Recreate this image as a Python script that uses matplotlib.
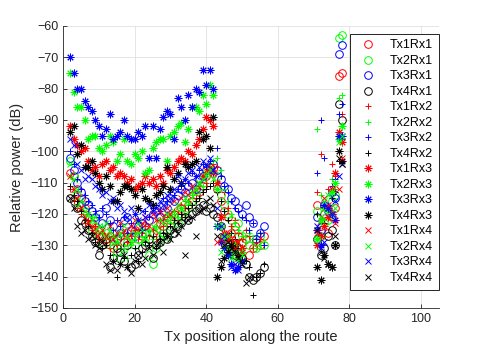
import matplotlib
matplotlib.use("Agg")
import matplotlib.pyplot as plt

nan = float("nan")

# x positions of the three measured stretches of the route
X_A = [2, 3, 4, 5, 6, 7, 8, 9, 10, 11, 12, 13, 14, 15, 16, 17, 18, 19, 20, 21, 22,
       23, 24, 25, 26, 27, 28, 29, 30, 31, 32, 33, 34, 35, 36, 37, 38, 39, 40, 41, 42]
X_B = [43, 44, 45, 46, 47, 48, 49, 50, 51, 52, 53, 54, 55, 56]
X_C = [71, 72, 73, 74, 75, 76, 77, 78]

# relative power (dB), one list per stretch
TX1RX1_A = [-107, -108, -112, -115, -118, -121, -123, -126, -125, -127, -129, -127, -131, -128,
            -127, -129, -126, -128, -125, -126, -127, -124, -128, -126, -125, -123, -124, -121,
            -122, -120, -121, -118, -119, -117, -116, -114, -113, -111, -108, -106, -107]
TX1RX1_B = [-112, -116, -119, -121, -126, -124, -127, -129, -128, -133, -131, -129, -130, -127]
TX1RX1_C = [-117, -124, -120, -126, -121, -118, -76, -75]

TX2RX1_A = [-103, -108, -114, -117, -119, -122, -125, -124, -127, -129, -126, -130, -128, -132,
            -134, -131, -129, -127, -130, -128, -126, -129, -133, -136, -131, -128, -126, -127,
            -124, -122, -123, -120, -119, -118, -116, -115, -112, -110, -107, -105, -104]
TX2RX1_B = [-108, -114, -117, -120, -122, -125, -123, -127, -126, -130, -128, -131, -127, -130]
TX2RX1_C = [-119, -127, -123, -122, -116, -114, -64, -63]

TX3RX1_A = [-102, -106, -110, -113, -116, -117, -119, -121, -120, -123, -118, -122, -124, -128,
            -126, -122, -121, -125, -127, -124, -123, -126, -122, -120, -119, -121, -117, -118,
            -115, -116, -114, -112, -113, -111, -110, -112, -109, -108, -106, -105, -104]
TX3RX1_B = [-106, -109, -111, -112, -115, -116, -118, -120, -117, -121, -123, -128, -126, -124]
TX3RX1_C = [-121, -125, -117, -119, -113, -115, -69, -66]

TX4RX1_A = [-115, -116, -118, -122, -123, -125, -127, -129, -133, -130, -128, -137, -134, -131,
            -132, -135, -130, -137, -136, -133, -131, -130, -128, -134, -130, -129, -127, -128,
            -125, -126, -124, -123, -121, -122, -120, -119, -118, -117, -119, -118, -120]
TX4RX1_B = [-121, -124, -127, -129, -131, -133, -132, -134, -136, -140, -141, -140, -139, -137]
TX4RX1_C = [-128, -133, -131, -127, -125, -130, -85, -90]

TX1RX2_A = [-112, -116, -118, -120, -123, -122, -125, -124, -128, -126, -129, -131, -127, -130,
            -128, -126, -129, -127, -125, -128, -126, -124, -127, -125, -128, -122, -124, -121,
            -123, -119, -120, -117, -118, -116, -113, -115, -111, -108, -110, -106, -104]
TX1RX2_B = [-105, -108, -113, -118, -124, -122, -126, -128, -125, -127, -131, -129, -128, -130]
TX1RX2_C = [-113, -101, -118, -112, -104, -108, -96, -88]

TX2RX2_A = [-108, -113, -117, -119, -122, -124, -121, -126, -128, -124, -127, -130, -133, -129,
            -127, -131, -134, -130, -128, -126, -129, -127, -125, -128, -124, -126, -127, -122,
            -123, -120, -121, -118, -116, -117, -114, -112, -110, -111, -107, -105, -103]
TX2RX2_B = [-102, -106, -112, -116, -120, -123, -125, -127, -129, -126, -128, -131, -130, -129]
TX2RX2_C = [-93, -114, -117, -121, -109, -112, -83, -82]

TX3RX2_A = [-100, -104, -109, -112, -114, -116, -117, -119, -121, -118, -120, -123, -125, -122,
            -124, -121, -126, -123, -120, -122, -125, -119, -121, -118, -117, -119, -115, -116,
            -113, -114, -112, -111, -109, -110, -107, -108, -106, -104, -105, -103, -107]
TX3RX2_B = [-99, -108, -111, -113, -116, -118, -119, -121, -122, -125, -123, -128, -126, -130]
TX3RX2_C = [-107, -90, -102, -117, -111, -109, -88, -85]

TX4RX2_A = [-111, -114, -116, -119, -122, -124, -126, -129, -128, -131, -130, -133, -135, -140,
            -136, -134, -137, -133, -131, -135, -132, -129, -130, -127, -131, -128, -126, -127,
            -124, -122, -123, -120, -121, -118, -117, -116, -115, -113, -112, -111, -110]
TX4RX2_B = [-113, -116, -119, -122, -126, -128, -130, -133, -135, -137, -146, -140, -139, -136]
TX4RX2_C = [-120, -127, -123, -121, -115, -113, -103, -96]

TX1RX3_A = [-92, -96, -98, -100, -99, -103, -106, -105, -108, -104, -103, -106, -105, -108,
            -107, -108, -110, -109, -112, -111, -110, -108, -110, -109, -111, -108, -110, -106,
            -107, -105, -103, -102, -103, -100, -101, -98, -96, -93, -89, -90, -92]
TX1RX3_B = [-110, -121, -126, -128, -130, -129, -133, -131, nan, nan, nan, nan, nan, nan]
TX1RX3_C = [-130, -127, -124, -121, -112, -107, -94, -97]

TX2RX3_A = [-75, -81, -86, -86, -90, -96, -95, -95, -99, -100, -98, -95, -97, -103,
            -101, -96, -103, -104, -101, -102, -100, -107, -106, -99, -97, -96, -96, -103,
            -95, -94, -92, -91, -97, -93, -86, -86, -87, -82, -85, -79, -82]
TX2RX3_B = [-112, -124, -127, -131, -133, -130, -134, -132, nan, nan, nan, nan, nan, nan]
TX2RX3_C = [-128, -122, -118, -119, -113, -110, -96, -92]

TX3RX3_A = [-70, -75, -80, -80, -84, -86, -87, -90, -92, -95, -93, -88, -96, -95,
            -94, -90, -95, -96, -96, -94, -95, -92, -102, -92, -102, -93, -89, -87,
            -88, -96, -83, -86, -90, -82, -86, -80, -81, -74, -79, -74, -80]
TX3RX3_B = [-124, -129, -131, -133, -136, -138, -137, -135, nan, nan, nan, nan, nan, nan]
TX3RX3_C = [-125, -130, -117, -118, -120, -122, -95, -95]

TX4RX3_A = [-94, -92, -101, -98, -105, -105, -103, -107, -110, -112, -108, -111, -116, -116,
            -113, -111, -111, -112, -114, -118, -112, -115, -116, -117, -114, -113, -111, -105,
            -112, -109, -107, -110, -104, -105, -104, -103, -94, -96, -95, -99, -89]
TX4RX3_B = [-140, -137, -134, -132, -130, -131, -133, -135, nan, nan, nan, nan, nan, nan]
TX4RX3_C = [-137, -141, -133, -136, -137, -130, -100, -103]

TX1RX4_A = [-108, -112, -115, -118, -121, -123, -124, -126, -128, -125, -127, -124, -128, -126,
            -123, -125, -127, -124, -122, -125, -123, -121, -124, -120, -122, -119, -121, -118,
            -120, -116, -117, -115, -113, -114, -111, -112, -110, -108, -106, -105, -107]
TX1RX4_B = [-129, -128, -130, -126, -128, -131, -129, -132, nan, nan, nan, nan, nan, nan]
TX1RX4_C = [-126, -121, -115, -117, -119, -123, -112, -102]

TX2RX4_A = [-104, -109, -112, -116, -119, -120, -122, -121, -124, -126, -123, -125, -127, -129,
            -126, -124, -127, -129, -126, -123, -125, -128, -126, -124, -125, -122, -123, -120,
            -121, -119, -117, -118, -115, -116, -113, -112, -110, -109, -108, -106, -109]
TX2RX4_B = [-124, -132, -130, -127, -134, -132, -135, -133, nan, nan, nan, nan, nan, nan]
TX2RX4_C = [-128, -121, -116, -114, -120, -118, -97, -95]

TX3RX4_A = [-96, -98, -104, -106, -109, -108, -109, -111, -112, -114, -113, -116, -115, -118,
            -117, -119, -121, -118, -120, -122, -119, -121, -117, -119, -118, -116, -117, -114,
            -115, -112, -108, -110, -109, -107, -106, -108, -105, -103, -104, -102, -106]
TX3RX4_B = [-118, -124, -127, -133, -137, -136, -138, -135, nan, nan, nan, nan, nan, nan]
TX3RX4_C = [-124, -131, -129, -118, -120, -116, -108, -104]

TX4RX4_A = [-115, -118, -124, -126, -125, -128, -127, -130, -131, -129, -136, -138, -135, -138,
            -136, -133, -137, -139, -135, -133, -136, -134, -131, -133, -130, -129, -132, -127,
            -128, -125, -126, -124, -133, -122, -121, -127, -119, -118, -116, -115, -117]
TX4RX4_B = [-127, -135, -130, -129, -131, -132, -134, -136, -142, -140, nan, nan, nan, nan]
TX4RX4_C = [-125, -132, -134, -136, -137, -127, -102, -104]

SERIES = [
    ("Tx1Rx1", "r", "o", TX1RX1_A, TX1RX1_B, TX1RX1_C),
    ("Tx2Rx1", "g", "o", TX2RX1_A, TX2RX1_B, TX2RX1_C),
    ("Tx3Rx1", "b", "o", TX3RX1_A, TX3RX1_B, TX3RX1_C),
    ("Tx4Rx1", "k", "o", TX4RX1_A, TX4RX1_B, TX4RX1_C),
    ("Tx1Rx2", "r", "+", TX1RX2_A, TX1RX2_B, TX1RX2_C),
    ("Tx2Rx2", "g", "+", TX2RX2_A, TX2RX2_B, TX2RX2_C),
    ("Tx3Rx2", "b", "+", TX3RX2_A, TX3RX2_B, TX3RX2_C),
    ("Tx4Rx2", "k", "+", TX4RX2_A, TX4RX2_B, TX4RX2_C),
    ("Tx1Rx3", "r", "*", TX1RX3_A, TX1RX3_B, TX1RX3_C),
    ("Tx2Rx3", "g", "*", TX2RX3_A, TX2RX3_B, TX2RX3_C),
    ("Tx3Rx3", "b", "*", TX3RX3_A, TX3RX3_B, TX3RX3_C),
    ("Tx4Rx3", "k", "*", TX4RX3_A, TX4RX3_B, TX4RX3_C),
    ("Tx1Rx4", "r", "x", TX1RX4_A, TX1RX4_B, TX1RX4_C),
    ("Tx2Rx4", "g", "x", TX2RX4_A, TX2RX4_B, TX2RX4_C),
    ("Tx3Rx4", "b", "x", TX3RX4_A, TX3RX4_B, TX3RX4_C),
    ("Tx4Rx4", "k", "x", TX4RX4_A, TX4RX4_B, TX4RX4_C),
]

COLORS = {"r": (1, 0, 0), "g": (0, 1, 0), "b": (0, 0, 1), "k": (0, 0, 0)}
AXIS_GRAY = (0.15, 0.15, 0.15)

plt.rcParams["font.family"] = ["Liberation Sans", "DejaVu Sans"]

fig = plt.figure(figsize=(4.85, 3.46), dpi=100)
ax = fig.add_axes([0.13, 0.11, 0.775, 0.815])

for name, col, mk, ya, yb, yc in SERIES:
    xs = X_A + X_B + X_C
    ys = ya + yb + yc
    if mk == "*":
        marker, ms = (8, 2, 0), 5.5
    elif mk == "o":
        marker, ms = "o", 5.5
    else:
        marker, ms = mk, 5
    ax.plot(xs, ys, linestyle="none", marker=marker, markersize=ms,
            markerfacecolor="none", markeredgecolor=COLORS[col],
            markeredgewidth=0.7, label=name)

ax.set_xlim(0, 105)
ax.set_ylim(-150, -60)
ax.set_xticks([0, 20, 40, 60, 80, 100])
ax.set_yticks(list(range(-150, -59, 10)))
ax.grid(True, color=(0.88, 0.88, 0.88), linewidth=0.6)
ax.set_axisbelow(True)
for side in ("top", "right"):
    ax.spines[side].set_visible(False)
for side in ("left", "bottom"):
    ax.spines[side].set_color(AXIS_GRAY)
    ax.spines[side].set_linewidth(0.6)
ax.tick_params(direction="in", length=3, width=0.6, colors=AXIS_GRAY,
               labelsize=9, labelcolor=AXIS_GRAY)
ax.set_xlabel("Tx position along the route", fontsize=10.5, color=AXIS_GRAY)
ax.set_ylabel("Relative power (dB)", fontsize=10.5, color=AXIS_GRAY)

leg = ax.legend(loc="upper right", bbox_to_anchor=(1.0, 0.972), borderaxespad=0,
                fontsize=9, frameon=True, fancybox=False, framealpha=1,
                edgecolor="black", labelspacing=0.28, handlelength=2.0,
                handletextpad=0.8, borderpad=0.45, numpoints=1)
leg.get_frame().set_linewidth(0.6)

fig.savefig("out.png", dpi=100)
